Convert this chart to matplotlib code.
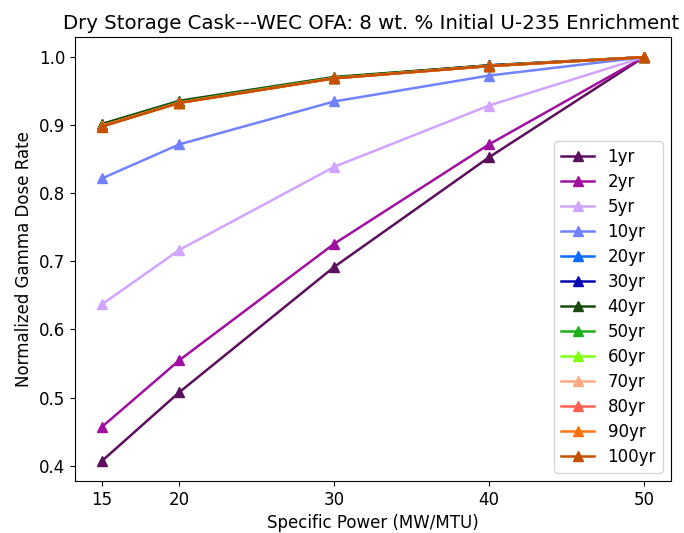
import matplotlib
matplotlib.use("Agg")
import matplotlib.pyplot as plt

power = [15, 20, 30, 40, 50]
labels = ["1yr", "2yr", "5yr", "10yr", "20yr", "30yr", "40yr", "50yr",
          "60yr", "70yr", "80yr", "90yr", "100yr"]
colors = ["#5c0f5c", "#a010a0", "#d0a4ff", "#7282ff", "#0a6cff", "#0808b0",
          "#1a4a10", "#1cb01c", "#80ff10", "#ffaa80", "#ff6050", "#ff7410", "#c45000"]

y_1 = [0.407, 0.508, 0.692, 0.853, 1.0]
y_2 = [0.457, 0.555, 0.726, 0.872, 1.0]
y_5 = [0.637, 0.717, 0.839, 0.929, 1.0]
y_10 = [0.822, 0.872, 0.935, 0.973, 1.0]
y_20 = [0.899, 0.934, 0.970, 0.987, 1.0]
y_30 = [0.900, 0.934, 0.970, 0.988, 1.0]
y_40 = [0.902, 0.936, 0.971, 0.988, 1.0]
y_50 = [0.899, 0.934, 0.970, 0.987, 1.0]
y_60 = [0.899, 0.933, 0.969, 0.987, 1.0]
y_70 = [0.899, 0.933, 0.969, 0.987, 1.0]
y_80 = [0.899, 0.933, 0.969, 0.987, 1.0]
y_90 = [0.899, 0.933, 0.969, 0.987, 1.0]
y_100 = [0.898, 0.933, 0.969, 0.987, 1.0]
series = [y_1, y_2, y_5, y_10, y_20, y_30, y_40, y_50, y_60, y_70, y_80, y_90, y_100]

plt.rcParams["font.size"] = 12
plt.rcParams["axes.titlesize"] = 14.2

fig = plt.figure(figsize=(6.84, 5.33), dpi=100)
ax = fig.add_axes([75/684, (533-481)/533, 596/684, 444/533])
for lab, col, ys in zip(labels, colors, series):
    ax.plot(power, ys, marker="^", color=col, label=lab, linewidth=1.8, markersize=7.2)
ax.set_xticks(power)
ax.set_xlabel("Specific Power (MW/MTU)")
ax.set_ylabel("Normalized Gamma Dose Rate")
ax.set_title("Dry Storage Cask---WEC OFA: 8 wt. % Initial U-235 Enrichment", x=0.497)
ax.legend(loc="lower right", labelspacing=0.42)
fig.savefig("out.png", dpi=100)
